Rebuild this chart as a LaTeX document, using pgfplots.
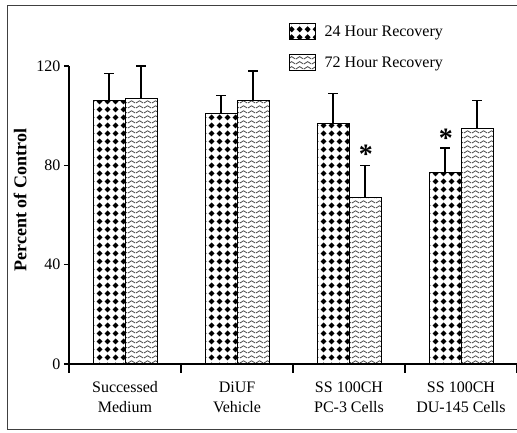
\documentclass[border=0pt]{standalone}
\usepackage{fontspec}
\setmainfont{Liberation Serif}
\usepackage{pgfplots}
\pgfplotsset{compat=1.18}
\usetikzlibrary{patterns}

\pgfdeclarepatternformonly{bdiamonds}{\pgfpointorigin}{\pgfqpoint{8pt}{8pt}}{\pgfqpoint{8pt}{8pt}}{%
  \pgfpathmoveto{\pgfqpoint{4pt}{0.7pt}}%
  \pgfpathlineto{\pgfqpoint{7.3pt}{4pt}}%
  \pgfpathlineto{\pgfqpoint{4pt}{7.3pt}}%
  \pgfpathlineto{\pgfqpoint{0.7pt}{4pt}}%
  \pgfpathclose
  \pgfusepath{fill}%
}
\pgfdeclarepatternformonly{gwaves}{\pgfpointorigin}{\pgfqpoint{8pt}{4.6pt}}{\pgfqpoint{8pt}{4.6pt}}{%
  \pgfsetlinewidth{0.85pt}%
  \pgfpathmoveto{\pgfqpoint{0pt}{1.1pt}}%
  \pgfpathcurveto{\pgfqpoint{2pt}{1.1pt}}{\pgfqpoint{2pt}{3.5pt}}{\pgfqpoint{4pt}{3.5pt}}%
  \pgfpathcurveto{\pgfqpoint{6pt}{3.5pt}}{\pgfqpoint{6pt}{1.1pt}}{\pgfqpoint{8pt}{1.1pt}}%
  \pgfusepath{stroke}%
}

\newcommand{\labfont}{\fontsize{16}{20}\selectfont}

\begin{document}
\begin{tikzpicture}
\useasboundingbox (0,0) rectangle (517pt,433pt);
\draw[line width=1pt, black!75] (530pt,427pt) -- (7pt,427pt) -- (7pt,3pt) -- (530pt,3pt);
\begin{axis}[
  at={(69pt,69pt)}, anchor=south west, scale only axis,
  width=448pt, height=298pt,
  ybar, bar width=32pt,
  clip=false,
  xmin=0.5, xmax=4.5, ymin=0, ymax=120,
  axis lines=left,
  axis line style={line width=1.8pt, -},
  tick align=outside,
  major tick length=5pt,
  ytick={0,40,80,120},
  ytick style={line width=1.6pt, black},
  xtick={1,2,3,4},
  xticklabels={{Successed\\Medium},{DiUF\\Vehicle},{SS 100CH\\PC-3 Cells},{SS 100CH\\DU-145 Cells}},
  xticklabel style={align=center, font=\labfont, yshift=-9pt},
  xtick style={draw=none},
  extra x ticks={0.5,1.5,2.5,3.5,4.5},
  extra x tick labels={},
  extra x tick style={xtick style={draw=black, line width=1.8pt}, major tick length=9pt},
  yticklabel style={font=\labfont},
  /pgf/number format/assume math mode=true,
  ylabel={Percent of Control},
  ylabel style={font=\fontsize{18}{20}\selectfont\bfseries, at={(axis description cs:-0.109,0.55)}, anchor=center},
  legend style={at={(axis description cs:0.49,1.145)}, anchor=north west, draw=none, fill=none,
     font=\labfont, row sep=14pt, inner sep=0pt},
  legend cell align=left,
  legend image code/.code={\draw[#1, line width=1pt, draw=black] (0pt,-8pt) rectangle (26pt,8pt); \path (33pt,0pt);},
]
\addplot[draw=black, line width=1pt, pattern=bdiamonds, pattern color=black, bar shift=-16pt,
  error bars/.cd, y dir=plus, y explicit,
  error bar style={line width=1.4pt, black, solid},
  error mark options={black, line width=1.4pt, mark size=5pt, rotate=90}]
  coordinates {(1,106) +- (0,11) (2,101) +- (0,7) (3,97) +- (0,12) (4,77) +- (0,10)};
\addlegendentry{24 Hour Recovery}
\addplot[draw=black, line width=1pt, pattern=gwaves, pattern color=black!72, bar shift=16pt,
  error bars/.cd, y dir=plus, y explicit,
  error bar style={line width=1.4pt, black, solid},
  error mark options={black, line width=1.4pt, mark size=5pt, rotate=90}]
  coordinates {(1,107) +- (0,13) (2,106) +- (0,12) (3,67) +- (0,13) (4,95) +- (0,11)};
\addlegendentry{72 Hour Recovery}
\node[font=\fontsize{28}{30}\selectfont\bfseries] at (axis cs:3.15,84.3) {*};
\node[font=\fontsize{28}{30}\selectfont\bfseries] at (axis cs:3.866,91) {*};
\end{axis}
\end{tikzpicture}
\end{document}
